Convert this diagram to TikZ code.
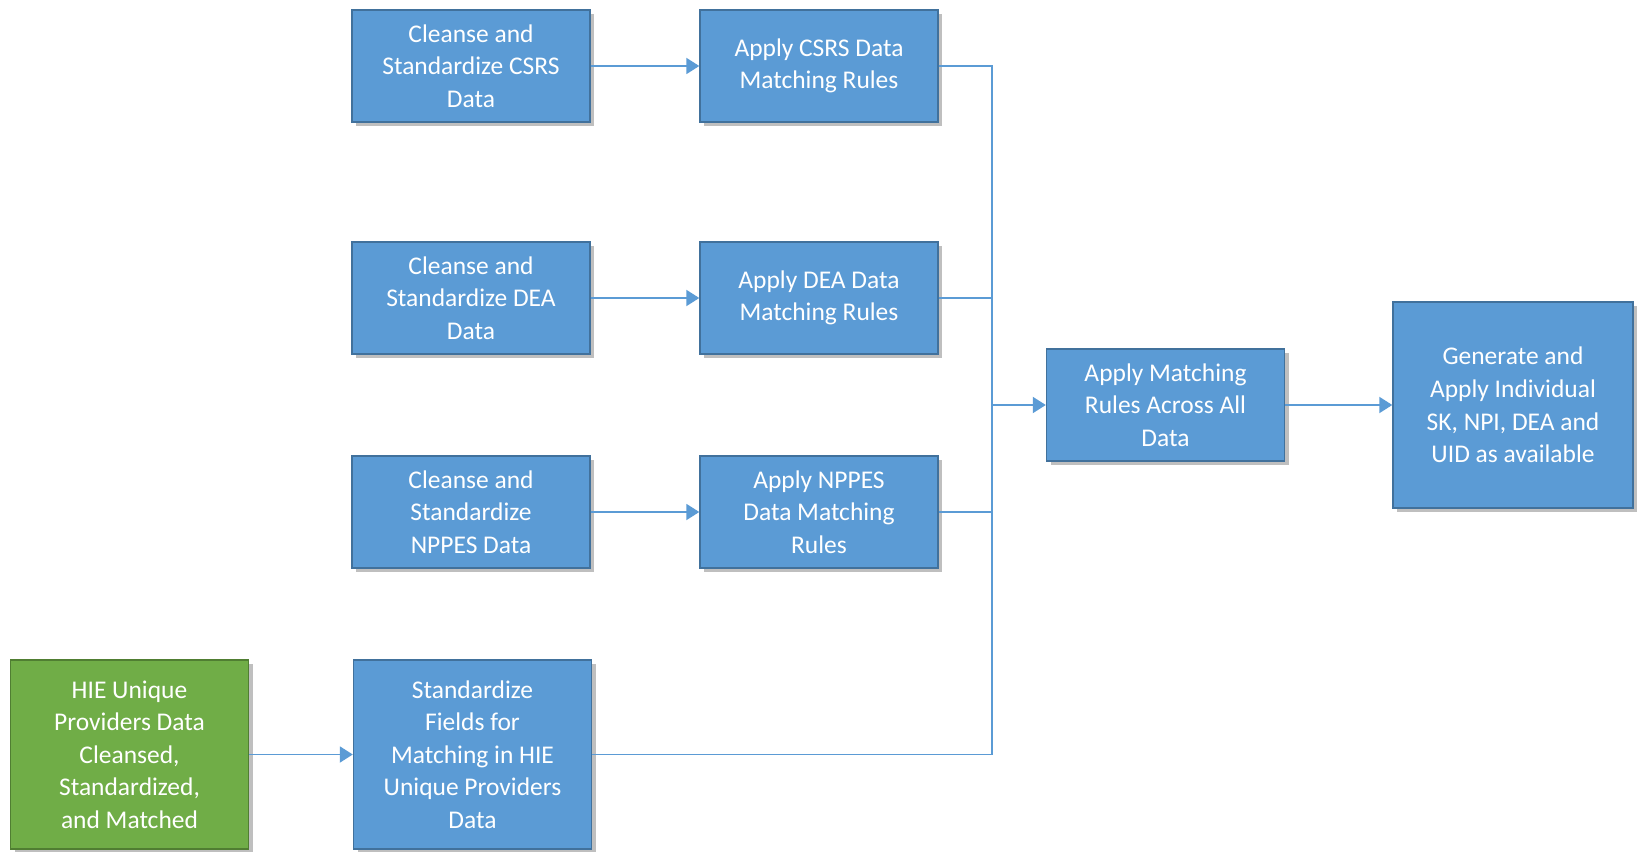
\documentclass[tikz,border=0pt]{standalone}
\usepackage{fontspec}
\setmainfont{Carlito}
\usepackage{xcolor}
\usetikzlibrary{positioning,arrows.meta,shadows}

\definecolor{boxblue}{HTML}{5B9BD5}
\definecolor{edgeblue}{HTML}{41719C}
\definecolor{boxgreen}{HTML}{70AD47}
\definecolor{edgegreen}{HTML}{507E32}

\begin{document}
\begin{tikzpicture}[
  every node/.style={font=\fontsize{14.5}{18.5}\selectfont},
  stepbox/.style={draw=edgeblue, line width=0.8pt, fill=boxblue, text=white, align=center,
    minimum width=4.76cm, minimum height=2.24cm, inner sep=2pt,
    drop shadow={shadow xshift=0.8mm, shadow yshift=-0.8mm, opacity=0.5}},
  tallbox/.style={stepbox, minimum height=3.78cm},
  srcbox/.style={tallbox, draw=edgegreen, fill=boxgreen},
  flow/.style={draw=boxblue, line width=1.1pt},
  flowarrow/.style={flow, -{Triangle[length=2.6mm,width=3.2mm]}}
]
\useasboundingbox (0,0) rectangle (32.82,-17.04);

% source preparation
\node[stepbox] (csrsclean) at (9.42,-1.32) {Cleanse and\\Standardize CSRS\\Data};
\node[stepbox] (deaclean) at (9.42,-5.96) {Cleanse and\\Standardize DEA\\Data};
\node[stepbox] (nppesclean) at (9.42,-10.24) {Cleanse and\\Standardize\\NPPES Data};
\node[srcbox] (hiesrc) at (2.59,-15.09) {HIE Unique\\Providers Data\\Cleansed,\\Standardized,\\and Matched};
\node[tallbox] (hiestd) at (9.45,-15.09) {Standardize\\Fields for\\Matching in HIE\\Unique Providers\\Data};

% matching rules
\node[stepbox] (csrsrule) at (16.38,-1.32) {Apply CSRS Data\\Matching Rules};
\node[stepbox] (dearule) at (16.38,-5.96) {Apply DEA Data\\Matching Rules};
\node[stepbox] (nppesrule) at (16.38,-10.24) {Apply NPPES\\Data Matching\\Rules};
\node[stepbox] (across) at (23.31,-8.10) {Apply Matching\\Rules Across All\\Data};
\node[stepbox, minimum width=4.8cm, minimum height=4.12cm] (generate) at (30.26,-8.10) {Generate and\\Apply Individual\\SK, NPI, DEA and\\UID as available};

\coordinate (bus) at (19.84,-8.10);

\draw[flowarrow] (csrsclean) -- (csrsrule);
\draw[flowarrow] (deaclean) -- (dearule);
\draw[flowarrow] (nppesclean) -- (nppesrule);
\draw[flowarrow] (hiesrc) -- (hiestd);

\draw[flow] (csrsrule) -| (bus);
\draw[flow] (dearule) -| (bus);
\draw[flow] (nppesrule) -| (bus);
\draw[flow] (hiestd) -| (bus);
\draw[flowarrow] (bus) -- (across);
\draw[flowarrow] (across) -- (generate);
\end{tikzpicture}
\end{document}
